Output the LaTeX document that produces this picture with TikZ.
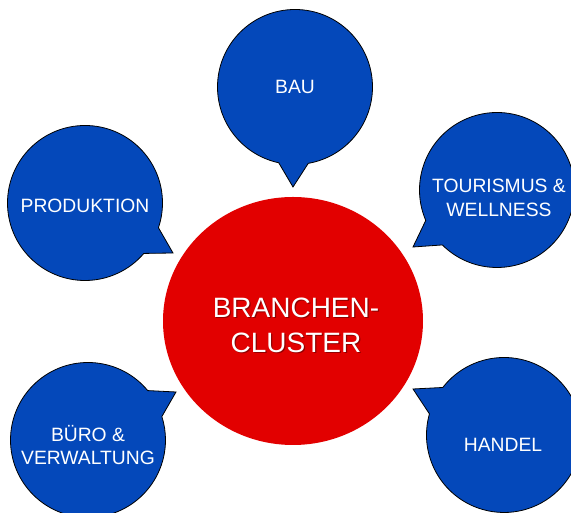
\documentclass[tikz,border=0pt]{standalone}
\usepackage{fontspec}
\setmainfont{Liberation Sans}
\usepackage{tikz}
\usetikzlibrary{shapes}
\definecolor{bubbleblue}{RGB}{4,72,186}
\definecolor{clusterred}{RGB}{226,0,0}

\begin{document}
\begin{tikzpicture}[x=1pt,y=1pt]

  \tikzstyle{bubble}=[ellipse callout,draw=black,line width=0.8pt,fill=bubbleblue,
                      minimum width=155pt,minimum height=155pt,inner sep=0pt,
                      callout pointer arc=22]
  \tikzstyle{hub}=[ellipse,fill=clusterred,minimum width=260pt,
                   minimum height=248pt,inner sep=0pt]

  \tikzstyle{every label}=[white,align=center,font=\fontsize{19.3}{23.3}\selectfont]
  \tikzstyle{hubtext}=[font=\fontsize{28}{35}\selectfont,xshift=3pt,yshift=-4pt]

  \useasboundingbox (0,0) rectangle (571,513);

  % centre
  \node [hub] (cluster) at (293,192)
    [label={[hubtext,clusterred!40!black,opacity=0.6,xshift=1.2pt,yshift=-1.5pt]center:BRANCHEN-\\CLUSTER},
     label={[hubtext]center:BRANCHEN-\\CLUSTER}] {};

  % speech bubbles round it
  \node [bubble] (bau)        at (295,426) [callout absolute pointer={(293,326)},
                                            label=center:BAU] {};
  \node [bubble] (produktion) at (85,310)  [callout absolute pointer={(173,260)},
                                            label={[yshift=-3pt]center:PRODUKTION}] {};
  \node [bubble] (tourismus)  at (497,323) [callout absolute pointer={(413,266)},
                                            label={[xshift=2pt,yshift=-8pt]center:TOURISMUS \&\\WELLNESS}] {};
  \node [bubble] (buero)      at (88,73)   [callout absolute pointer={(176,121)},
                                            label={[yshift=-5pt]center:BÜRO \&\\VERWALTUNG}] {};
  \node [bubble] (handel)     at (504,78)  [callout absolute pointer={(413,124)},
                                            label={[xshift=-1pt,yshift=-10pt]center:HANDEL}] {};

\end{tikzpicture}
\end{document}
